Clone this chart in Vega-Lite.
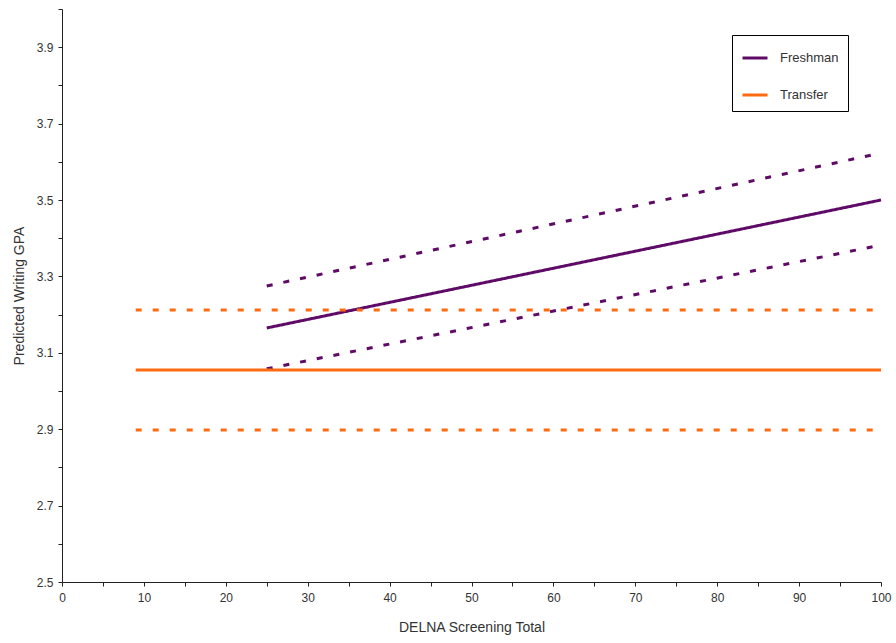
{
  "$schema": "https://vega.github.io/schema/vega-lite/v6.json",
  "autosize": "none",
  "width": 819,
  "height": 573,
  "padding": {"left": 62, "top": 9, "right": 15, "bottom": 61},
  "background": "white",
  "config": {
    "view": {"stroke": null},
    "font": "Liberation Sans Narrow, Liberation Sans, Arial"
  },
  "data": {
    "values": [
      {"series": "Freshman", "group": "Freshman", "kind": "estimate", "x": 25, "y": 3.165},
      {"series": "Freshman", "group": "Freshman", "kind": "estimate", "x": 100, "y": 3.5},
      {"series": "Freshman upper", "group": "Freshman", "kind": "bound", "x": 25, "y": 3.275},
      {"series": "Freshman upper", "group": "Freshman", "kind": "bound", "x": 100, "y": 3.623},
      {"series": "Freshman lower", "group": "Freshman", "kind": "bound", "x": 25, "y": 3.058},
      {"series": "Freshman lower", "group": "Freshman", "kind": "bound", "x": 100, "y": 3.382},
      {"series": "Transfer", "group": "Transfer", "kind": "estimate", "x": 9, "y": 3.055},
      {"series": "Transfer", "group": "Transfer", "kind": "estimate", "x": 100, "y": 3.055},
      {"series": "Transfer upper", "group": "Transfer", "kind": "bound", "x": 9, "y": 3.212},
      {"series": "Transfer upper", "group": "Transfer", "kind": "bound", "x": 100, "y": 3.212},
      {"series": "Transfer lower", "group": "Transfer", "kind": "bound", "x": 9, "y": 2.898},
      {"series": "Transfer lower", "group": "Transfer", "kind": "bound", "x": 100, "y": 2.898}
    ]
  },
  "mark": {"type": "line", "strokeWidth": 3, "clip": false},
  "encoding": {
    "x": {
      "field": "x", "type": "quantitative",
      "scale": {"domain": [0, 100], "nice": false, "zero": false},
      "axis": {
        "title": "DELNA Screening Total",
        "values": [0,5,10,15,20,25,30,35,40,45,50,55,60,65,70,75,80,85,90,95,100],
        "labelExpr": "datum.value % 10 == 0 ? datum.label : ''",
        "grid": false, "domainColor": "#222222", "tickColor": "#222222",
        "tickSize": 4, "labelColor": "#333333", "labelFontSize": 12,
        "labelPadding": 6, "titleFontSize": 14, "titleFontWeight": "normal",
        "titleColor": "#333333", "titlePadding": 17, "labelFlush": false
      }
    },
    "y": {
      "field": "y", "type": "quantitative",
      "scale": {"domain": [2.5, 4.0], "nice": false, "zero": false},
      "axis": {
        "title": "Predicted Writing GPA",
        "values": [2.5,2.6,2.7,2.8,2.9,3.0,3.1,3.2,3.3,3.4,3.5,3.6,3.7,3.8,3.9,4.0],
        "labelExpr": "round(datum.value*10) % 2 == 1 ? format(datum.value, '.1f') : ''",
        "grid": false, "domainColor": "#222222", "tickColor": "#222222",
        "tickSize": 4, "labelColor": "#333333", "labelFontSize": 12,
        "labelPadding": 5, "titleFontSize": 14, "titleFontWeight": "normal",
        "titleColor": "#333333", "titlePadding": 10, "labelFlush": false
      }
    },
    "color": {
      "field": "group", "type": "nominal",
      "scale": {"domain": ["Freshman", "Transfer"], "range": ["#5F0A66", "#FF6A10"]},
      "legend": {
        "title": null, "orient": "none", "legendX": 670, "legendY": 26,
        "symbolType": "stroke", "symbolStrokeWidth": 3, "symbolSize": 625,
        "strokeColor": "#000000", "padding": 9, "rowPadding": 16,
        "labelFontSize": 13, "labelColor": "#333333", "labelOffset": 11,
        "fillColor": "white"
      }
    },
    "strokeDash": {
      "field": "kind", "type": "nominal",
      "scale": {"domain": ["estimate", "bound"], "range": [[1, 0], [6, 11]]},
      "legend": null
    },
    "detail": {"field": "series"}
  }
}
